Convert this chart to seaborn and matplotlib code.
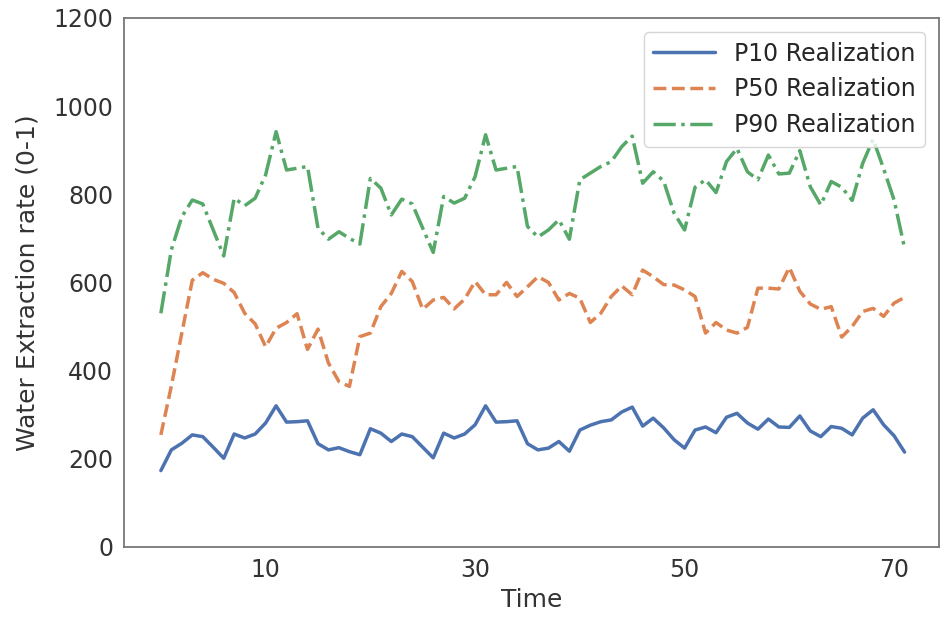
import numpy as np
import pandas as pd
import matplotlib
matplotlib.use("Agg")
import matplotlib.pyplot as plt
import seaborn as sns

time = list(range(72))

p10 = [173, 220, 235, 254, 250, 226, 201, 256, 247, 256, 281, 320, 283, 284, 286, 234,
       220, 225, 216, 209, 268, 258, 239, 256, 250, 226, 202, 258, 247, 256, 277, 320,
       283, 284, 286, 234, 220, 224, 239, 217, 265, 276, 284, 288, 306, 317, 274, 292,
       270, 243, 224, 265, 272, 259, 294, 303, 281, 267, 290, 272, 271, 297, 263, 250,
       273, 269, 254, 292, 311, 277, 252, 215]

p50 = [254, 365, 485, 605, 622, 607, 598, 577, 530, 506, 454, 496, 509, 529, 448, 494,
       417, 375, 364, 477, 485, 545, 575, 625, 602, 539, 560, 566, 540, 562, 602, 572,
       572, 600, 568, 590, 613, 600, 560, 575, 564, 509, 530, 568, 592, 572, 628, 613,
       595, 594, 583, 568, 485, 509, 492, 485, 498, 587, 587, 585, 634, 580, 551, 539,
       545, 476, 500, 534, 541, 523, 553, 566]

p90 = [530, 674, 749, 787, 778, 719, 660, 791, 774, 791, 844, 942, 855, 859, 863, 723,
       698, 715, 700, 687, 836, 814, 753, 789, 778, 723, 668, 795, 780, 791, 840, 935,
       855, 859, 863, 727, 703, 719, 742, 698, 833, 848, 863, 874, 908, 932, 825, 851,
       830, 757, 719, 816, 833, 804, 874, 904, 851, 833, 889, 846, 848, 899, 817, 776,
       829, 816, 786, 870, 925, 858, 787, 678]

series_names = ["P10 Realization", "P50 Realization", "P90 Realization"]
x_ticks = [10, 30, 50, 70]
y_ticks = [0, 200, 400, 600, 800, 1000, 1200]

df = pd.DataFrame({
    "Time": time * 3,
    "value": p10 + p50 + p90,
    "series": [series_names[0]] * len(time) + [series_names[1]] * len(time) + [series_names[2]] * len(time),
})

sns.set_theme(style="white", palette="deep")
plt.rcParams["font.family"] = ["DejaVu Sans"]

fig = plt.figure(figsize=(9.41, 6.2), dpi=100)
ax = fig.add_axes([0.132, 0.118, 0.866, 0.853])

palette = dict(zip(series_names, sns.color_palette("deep", 3)))
dashes = dict(zip(series_names, ["", (3.7, 1.6), (6.4, 1.6, 1, 1.6)]))

sns.lineplot(data=df, x="Time", y="value", hue="series", style="series",
             palette=palette, dashes=dashes, linewidth=2.5, ax=ax)

ax.set_ylim(0, 1200)
ax.set_xlim(-3.5, 74.3)
ax.set_xticks(x_ticks)
ax.set_yticks(y_ticks)
ax.tick_params(axis="both", labelsize=17, colors="#333333", length=0, pad=8)
ax.set_xlabel("Time", fontsize=18, color="#333333", labelpad=4)
ax.set_ylabel("Water Extraction rate (0-1)", fontsize=18, color="#333333", labelpad=10)

for s in ax.spines.values():
    s.set_color("#777777")
    s.set_linewidth(1.3)

handles, labels = ax.get_legend_handles_labels()
ax.legend(handles, labels, loc="upper right", fontsize=17, frameon=True,
          handlelength=2.6, borderaxespad=0.6)

fig.savefig("out.png", dpi=100)
